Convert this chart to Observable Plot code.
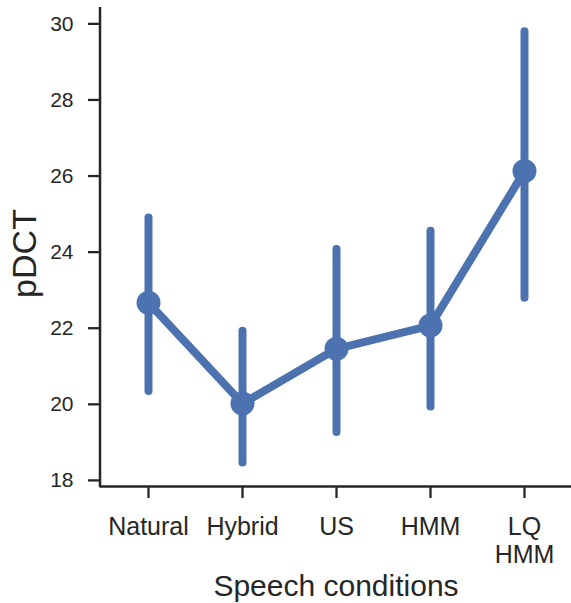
<!DOCTYPE html>
<html>
<head>
<meta charset="utf-8">
<script src="https://cdn.jsdelivr.net/npm/d3@7"></script>
<script src="https://cdn.jsdelivr.net/npm/@observablehq/plot@0.6"></script>
<style>
  html, body { margin: 0; padding: 0; background: #fff; }
  #chart svg { display: block; }
</style>
</head>
<body>
<div id="chart"></div>
<script>
const conditions = ["Natural", "Hybrid", "US", "HMM", "LQ HMM"];
const means = [22.67, 20.02, 21.46, 22.07, 26.13];
const lows  = [20.34, 18.46, 19.26, 19.93, 22.79];
const highs = [24.90, 21.92, 24.07, 24.55, 29.79];
const yTicks = [18, 20, 22, 24, 26, 28, 30];
const xTickLabels = ["Natural", "Hybrid", "US", "HMM", "LQ\nHMM"];
const yLabel = "pDCT";
const xLabel = "Speech conditions";

const data = conditions.map((c, i) => ({cond: c, mean: means[i], lo: lows[i], hi: highs[i]}));
const blue = "#4c72b0";
const ink = "#262626";
const font = "Liberation Sans, Arial, sans-serif";

const chart = Plot.plot({
  width: 571,
  height: 603,
  marginLeft: 100,
  marginRight: 0,
  marginTop: 7,
  marginBottom: 117,
  style: {fontFamily: font, color: ink, background: "#fff"},
  x: {type: "point", domain: conditions, padding: 0.5},
  y: {domain: [17.84, 30.43]},
  marks: [
    Plot.ruleX(data, {x: "cond", y1: "lo", y2: "hi", stroke: blue, strokeWidth: 8, strokeLinecap: "round"}),
    Plot.line(data, {x: "cond", y: "mean", stroke: blue, strokeWidth: 8, strokeLinejoin: "round"}),
    Plot.dot(data, {x: "cond", y: "mean", r: 12, fill: blue, stroke: null}),
    Plot.axisY({ticks: yTicks, tickSize: 12, tickPadding: 15, fontSize: 21, strokeWidth: 2.3, label: null, fill: ink}),
    Plot.axisX({tickSize: 12, tickPadding: 16, fontSize: 25, lineHeight: 1.13, strokeWidth: 2.3, label: null, fill: ink,
      tickFormat: (d) => xTickLabels[conditions.indexOf(d)]}),
    Plot.ruleY([17.84], {stroke: ink, strokeWidth: 2.5}),
    Plot.text([yLabel], {frameAnchor: "left", text: (d) => d, rotate: -90, fontSize: 34, dx: -75, dy: 6.5, lineAnchor: "middle", textAnchor: "middle", fill: ink}),
    Plot.text([xLabel], {frameAnchor: "bottom", text: (d) => d, fontSize: 30, dy: 99.5, lineAnchor: "middle", textAnchor: "middle", fill: ink})
  ]
});

document.getElementById("chart").appendChild(chart);

// y-axis spine along the left edge of the frame, placed from the plot's own scales
const sx = chart.scale("x");
const sy = chart.scale("y");
const svg = d3.select(chart.tagName.toLowerCase() === "svg" ? chart : chart.querySelector("svg"));
svg.append("line")
  .attr("x1", sx.range[0]).attr("x2", sx.range[0])
  .attr("y1", sy.range[0] + 1.25).attr("y2", sy.range[1])
  .attr("stroke", ink).attr("stroke-width", 2.5);
</script>
</body>
</html>
